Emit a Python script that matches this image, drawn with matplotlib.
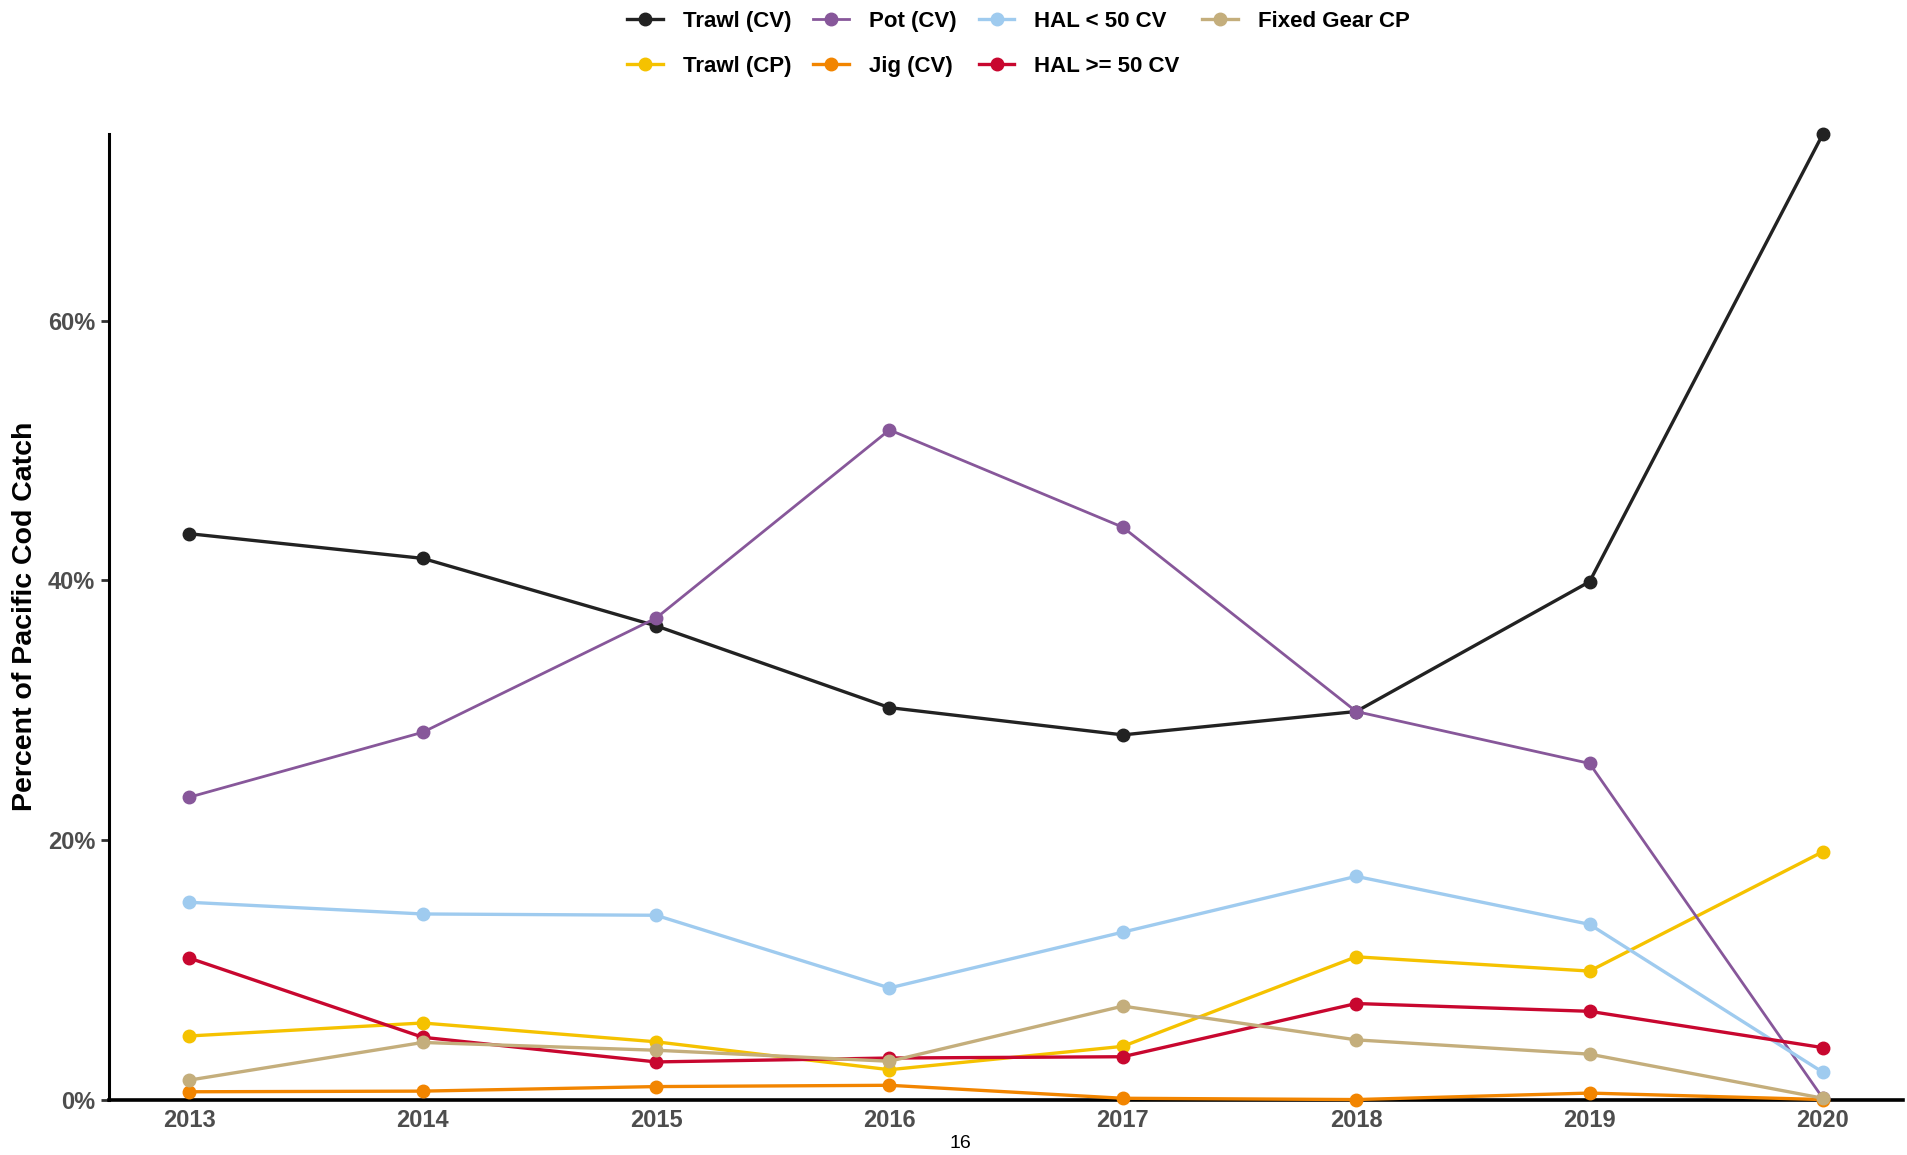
import matplotlib
matplotlib.use("Agg")
import matplotlib.pyplot as plt
from matplotlib.ticker import FuncFormatter

# data (percent of Pacific cod catch)
years = [2013, 2014, 2015, 2016, 2017, 2018, 2019, 2020]
trawl_cv = [43.6, 41.7, 36.5, 30.2, 28.1, 29.9, 39.9, 74.4]
trawl_cp = [4.9, 5.9, 4.45, 2.3, 4.1, 11.0, 9.9, 19.1]
pot_cv = [23.3, 28.3, 37.1, 51.6, 44.1, 29.9, 25.9, 0.1]
jig_cv = [0.6, 0.65, 1.0, 1.1, 0.1, 0.0, 0.5, 0.0]
hal_lt50 = [15.2, 14.3, 14.2, 8.6, 12.9, 17.2, 13.5, 2.1]
hal_ge50 = [10.9, 4.8, 2.9, 3.2, 3.3, 7.4, 6.8, 4.0]
fixed_cp = [1.5, 4.4, 3.8, 2.95, 7.2, 4.6, 3.5, 0.1]

# legend order arranged so matplotlib's column-wise fill gives the 2-row layout
series = [
    ("Trawl (CV)", trawl_cv, "#222222"),
    ("Trawl (CP)", trawl_cp, "#F5C200"),
    ("Pot (CV)", pot_cv, "#87579A"),
    ("Jig (CV)", jig_cv, "#F28500"),
    ("HAL < 50 CV", hal_lt50, "#9FCBEF"),
    ("HAL >= 50 CV", hal_ge50, "#C8072F"),
    ("Fixed Gear CP", fixed_cp, "#C4AE7C"),
]

narrow = ["Liberation Sans Narrow", "Liberation Sans", "DejaVu Sans"]

fig = plt.figure(figsize=(19.07, 11.55), dpi=100)
ax = fig.add_axes([0.0572, 0.048, 0.9408, 0.836])

for name, vals, col in series:
    lw = 2.0 if name == "Pot (CV)" else 2.4
    ax.plot(years, vals, color=col, lw=lw, marker="o", markersize=9,
            label=name, clip_on=False, zorder=3)

ax.set_xlim(2012.656, 2020.344)
ax.set_ylim(0, 74.4)
ax.set_yticks([0, 20, 40, 60])
ax.yaxis.set_major_formatter(FuncFormatter(lambda v, p: f"{v:.0f}%"))
ax.set_xticks(years)

for s in ["top", "right"]:
    ax.spines[s].set_visible(False)
ax.spines["left"].set_linewidth(2.2)
ax.spines["bottom"].set_linewidth(2.6)
ax.tick_params(axis="y", length=6, width=2, color="#333333", pad=4)
ax.tick_params(axis="x", length=0, pad=7)
for lab in ax.get_xticklabels() + ax.get_yticklabels():
    lab.set_family(narrow)
    lab.set_fontweight("bold")
    lab.set_fontsize(17)
    lab.set_color("#4D4D4D")

ax.set_ylabel("Percent of Pacific Cod Catch", fontsize=20.5, fontweight="bold",
              family=["Liberation Sans", "DejaVu Sans"], labelpad=7)

leg = fig.legend(loc="center", bbox_to_anchor=(0.534, 0.962), ncol=4,
                 frameon=False, handlelength=1.6, handletextpad=0.9,
                 columnspacing=1.0, labelspacing=1.05,
                 prop={"family": narrow, "weight": "bold", "size": 16})

fig.text(960 / 1907, 1 - 1143 / 1155, "16", ha="center", va="center",
         fontsize=14, family=narrow)

fig.savefig("out.png", dpi=100)
